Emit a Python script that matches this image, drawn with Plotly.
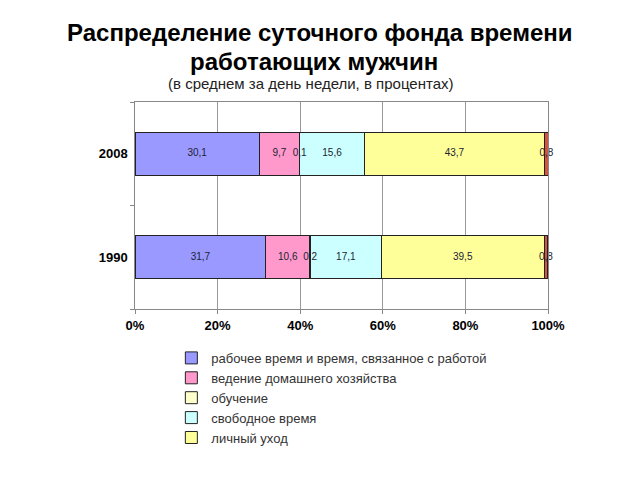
import plotly.graph_objects as go

years = ["1990", "2008"]
series_names = [
    "рабочее время и время, связанное с работой",
    "ведение домашнего хозяйства",
    "обучение",
    "свободное время",
    "личный уход",
    "прочее",
]
values_1990 = [31.7, 10.6, 0.2, 17.1, 39.5, 0.8]
values_2008 = [30.1, 9.7, 0.1, 15.6, 43.7, 0.8]
colors = ["#9999FF", "#FF99CC", "#FFFFCC", "#CCFFFF", "#FFFF99", "#D2553C"]
show_in_legend = [True, True, True, True, True, False]

fig = go.Figure()
for i, name in enumerate(series_names):
    vals = [values_1990[i], values_2008[i]]
    fig.add_trace(go.Bar(
        y=years,
        x=vals,
        orientation="h",
        name=name,
        showlegend=show_in_legend[i],
        marker=dict(color=colors[i], line=dict(color="#222222", width=1)),
        hoverinfo="skip",
    ))

# value labels on top of all bars, placed at segment centres (from the data)
lab_x, lab_y, lab_t = [], [], []
for yr, vals in zip(years, [values_1990, values_2008]):
    acc = 0.0
    for v in vals:
        lab_x.append(acc + v / 2)
        lab_y.append(yr)
        lab_t.append(f"{v:.1f}".replace(".", ","))
        acc += v
fig.add_trace(go.Scatter(
    x=lab_x, y=lab_y, text=lab_t,
    mode="text", textposition="middle center",
    textfont=dict(size=10, color="#222233", family="Liberation Sans, Arial, sans-serif"),
    showlegend=False, hoverinfo="skip", cliponaxis=False,
))

fig.update_layout(
    width=632, height=472,
    barmode="stack",
    bargap=0.58,
    paper_bgcolor="white",
    plot_bgcolor="white",
    font=dict(family="Liberation Sans, Arial, sans-serif", color="#000000"),
    margin=dict(l=127, r=92, t=94, b=171),
    annotations=[
        dict(text="<b>Распределение суточного фонда времени</b>",
             xref="paper", yref="paper", x=0.448, y=1.338,
             xanchor="center", yanchor="middle", showarrow=False,
             font=dict(size=24, color="#000000")),
        dict(text="<b>работающих мужчин</b>",
             xref="paper", yref="paper", x=0.433, y=1.196,
             xanchor="center", yanchor="middle", showarrow=False,
             font=dict(size=24, color="#000000")),
        dict(text="(в среднем за день недели, в процентах)",
             xref="paper", yref="paper", x=0.426, y=1.09,
             xanchor="center", yanchor="middle", showarrow=False,
             font=dict(size=15, color="#222222")),
    ],
    legend=dict(
        x=0.088, xanchor="left",
        y=-0.164, yanchor="top",
        traceorder="normal",
        font=dict(size=13, color="#333333"),
        bgcolor="rgba(0,0,0,0)",
        itemclick=False,
    ),
    xaxis=dict(
        range=[0, 100],
        dtick=20,
        ticksuffix="%",
        showgrid=True,
        gridcolor="#999999",
        gridwidth=1,
        showline=True,
        linecolor="#888888",
        mirror=True,
        ticks="outside",
        ticklen=4,
        tickcolor="#888888",
        zeroline=False,
        tickfont=dict(size=13, color="#000000", weight="bold"),
    ),
    yaxis=dict(
        categoryorder="array",
        categoryarray=years,
        showgrid=False,
        showline=True,
        linecolor="#888888",
        mirror=True,
        ticks="outside",
        tickson="boundaries",
        ticklen=4,
        tickcolor="#888888",
        tickfont=dict(size=13, color="#000000", weight="bold"),
        ticksuffix=" ",
    ),
)

fig.write_html("out.html")
